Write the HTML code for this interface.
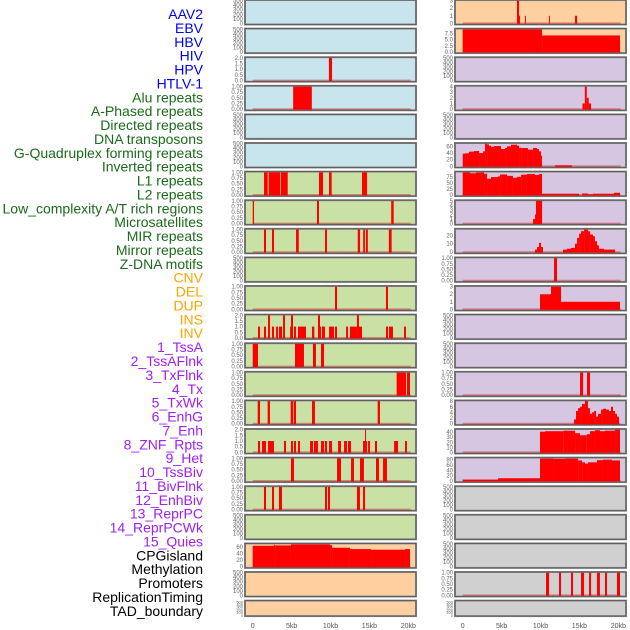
<!DOCTYPE html>
<html><head><meta charset="utf-8">
<style>
body{margin:0;background:#fff;width:630px;height:630px;overflow:hidden;font-family:"Liberation Sans",sans-serif}
svg{display:block}
</style></head><body>
<svg id="chart" width="630" height="630" viewBox="0 0 630 630"></svg>
<script>
const trackLabels=["AAV2","EBV","HBV","HIV","HPV","HTLV-1","Alu repeats","A-Phased repeats","Directed repeats","DNA transposons","G-Quadruplex forming repeats","Inverted repeats","L1 repeats","L2 repeats","Low_complexity A/T rich regions","Microsatellites","MIR repeats","Mirror repeats","Z-DNA motifs","CNV","DEL","DUP","INS","INV","1_TssA","2_TssAFlnk","3_TxFlnk","4_Tx","5_TxWk","6_EnhG","7_Enh","8_ZNF_Rpts","9_Het","10_TssBiv","11_BivFlnk","12_EnhBiv","13_ReprPC","14_ReprPCWk","15_Quies","CPGisland","Methylation","Promoters","ReplicationTiming","TAD_boundary"];
const labelGroups=[6,13,5,15,5];
const groupColors=["#0000ee","#1a6b1a","#ffa500","#a020f0","#000000"];
const xTickValues=[0,5,10,15,20];
const xTickLabels=["0","5kb","10kb","15kb","20kb"];
const emptyTicks=[0,100,200,300,400,500];
const ticks01=[0,0.25,0.5,0.75,1];
const ticks02=[0,0.5,1,1.5,2];
const genomeLength=20.3;
// left column bars [start kb, end kb, value]
const leftBars=[
 [],[],
 [[9.8,10.2,2]],
 [[5.2,7.6,1]],
 [],[],
 [[1.45,1.93,1],[2.05,3.55,1],[3.64,4.5,1],[8.52,9.04,1],[9.81,10.15,1],[14.05,14.7,1]],
 [[0,0.17,1],[8.26,8.52,1],[17.8,18.12,1]],
 [[1.45,1.71,1],[2.48,2.74,1],[5.57,5.92,1],[9.3,9.55,1],[13.5,13.8,1],[14.2,14.43,1],[14.56,14.8,1],[17.5,17.86,1]],
 [],
 [[10.58,10.84,1],[17.13,17.39,1]],
 [[0.68,0.94,1],[1.45,1.71,1],[1.97,2.22,2],[2.48,2.74,1],[3.0,3.25,1],[3.38,3.77,1],[3.9,4.15,2],[4.8,4.92,1],[4.92,5.18,2],[5.31,5.57,1],[5.82,6.85,1],[7.62,7.92,1],[8.39,8.65,2],[8.65,8.78,1],[8.9,9.29,1],[9.81,10.45,1],[10.58,10.84,1],[12.0,12.25,1],[12.5,13.4,1],[13.4,13.66,2],[13.66,14.05,1],[17.13,17.39,1],[17.52,18.03,1],[19.45,19.7,1]],
 [[0,0.68,1],[5.44,6.59,1],[7.75,8.13,1],[8.78,9.17,1]],
 [[18.5,19.7,1],[19.83,20.22,1]],
 [[0.64,0.94,1],[1.92,2.22,1],[4.88,5.18,1],[5.27,5.57,1],[7.62,8.0,1],[16.06,16.36,1]],
 [[0.68,0.94,1],[1.2,1.71,1],[1.97,2.74,1],[4.02,4.28,1],[4.92,5.18,1],[5.31,5.57,1],[5.82,6.08,1],[7.37,7.75,1],[7.88,8.39,1],[8.78,9.17,1],[9.29,9.55,1],[9.81,10.2,1],[10.97,11.35,1],[11.74,12.12,1],[12.25,12.64,1],[14.18,14.44,1],[14.44,14.57,2],[14.57,14.7,1],[14.83,15.08,1],[15.72,15.98,1],[18.17,18.68,1],[19.58,19.83,1]],
 [[4.92,5.31,1],[10.84,11.35,1],[12.64,13.02,1],[13.79,14.3,1],[15.85,16.23,1],[16.75,17.26,1]],
 [[1.45,1.71,1],[2.48,2.74,1],[3.38,3.77,1],[9.29,9.55,1],[9.68,9.94,1],[13.4,13.79,1],[14.18,14.44,1]],
 [],
 [[0,2.74,63],[2.74,2.87,66],[2.87,4.92,64],[4.92,9.94,67],[9.94,10.2,65],[10.2,12.5,57],[12.5,15.21,53],[15.21,19.58,51],[19.58,20.22,53]],
 [],[]
];
const leftMax=[500,500,2,1,500,500,1,1,1,500,1,2,1,1,1,2,1,1,500,68,500,500];
const leftTicks=[emptyTicks,emptyTicks,ticks02,ticks01,emptyTicks,emptyTicks,ticks01,ticks01,ticks01,emptyTicks,ticks01,ticks02,ticks01,ticks01,ticks01,ticks02,ticks01,ticks01,emptyTicks,[0,20,40,60],emptyTicks,emptyTicks];
const rightBars=[
 [[6.98,7.24,3],[7.24,7.37,1],[8.01,8.13,1],[11.1,11.22,1],[14.44,14.7,1]],
 [[0,10.2,9.2],[10.2,20.22,6.7]],
 [],
 [[15.4,15.7,1],[15.7,15.95,4],[15.95,16.2,2],[16.2,16.5,1]],
 [],
 [[0,0.3,38],[0.3,0.81,39],[0.81,1.45,44],[1.45,2.1,46],[2.1,2.61,40],[2.61,2.87,45],[2.87,3.13,68],[3.13,3.38,66],[3.38,3.64,62],[3.64,4.02,59],[4.02,4.92,61],[4.92,5.44,52],[5.44,5.69,55],[5.69,6.21,60],[6.21,6.98,65],[6.98,7.24,62],[7.24,7.5,56],[7.5,8.39,55],[8.39,9.04,50],[9.04,9.55,55],[9.55,9.81,52],[9.81,10.07,45],[10.07,10.2,32],[11.87,14.05,3]],
 [[0,0.94,95],[0.94,1.71,91],[1.71,2.74,94],[2.74,3.13,89],[3.13,3.64,68],[3.64,4.54,75],[4.54,4.8,78],[4.8,5.69,86],[5.69,6.46,80],[6.46,6.98,72],[6.98,7.5,76],[7.5,8.26,85],[8.26,9.29,88],[9.29,9.81,84],[9.81,10.2,88],[10.2,14.96,5],[15.34,16.11,6],[16.11,16.75,3],[16.75,19.45,5],[19.45,20.22,9]],
 [[9.04,9.29,1],[9.29,9.42,2],[9.42,10.2,5]],
 [[9.29,9.55,3],[9.55,9.81,6],[9.81,10.07,11],[10.07,10.32,6],[12.89,13.4,3],[13.4,13.92,4],[13.92,14.44,5],[14.44,14.7,10],[14.7,14.96,17],[14.96,15.21,22],[15.21,15.6,25],[15.6,16.11,27],[16.11,16.37,25],[16.37,16.75,21],[16.75,17.0,19],[17.0,17.26,13],[17.26,17.52,8],[17.52,18.17,4],[18.17,19.58,3]],
 [[11.74,12.12,1]],
 [[9.94,11.35,2],[11.35,12.64,3],[12.64,20.22,1]],
 [],[],
 [[15.08,15.47,1],[15.98,16.37,1]],
 [[14.3,14.56,1.5],[14.56,14.82,4.5],[14.82,15.08,5.5],[15.08,15.33,6],[15.33,15.72,7],[15.72,16.1,8],[16.1,16.36,5.5],[16.36,16.62,3.5],[16.62,16.88,4],[16.88,17.14,4.5],[17.14,17.39,2.5],[17.39,17.78,3.5],[17.78,18.03,5],[18.03,18.42,5.3],[18.42,18.8,5],[18.8,19.06,4.5],[19.06,19.32,6],[19.32,19.58,4.5],[19.58,19.83,3.5],[19.83,20.09,2.5]],
 [[9.94,10.58,41],[10.58,12.93,42],[12.93,14.44,43],[14.44,15.08,38],[15.08,15.94,34],[15.94,16.36,36],[16.36,17.0,42],[17.0,17.65,44],[17.65,18.29,42],[18.29,19.58,43],[19.58,20.22,45]],
 [[0,4.54,5],[4.54,9.94,10],[9.94,11.61,84],[11.61,13.15,83],[13.15,14.83,84],[14.83,15.34,77],[15.34,15.72,70],[15.72,16.11,65],[16.11,17.26,70],[17.26,18.03,78],[18.03,19.19,80],[19.19,20.22,77]],
 [],[],[],
 [[10.71,11.1,1],[12.38,12.64,1],[13.92,14.18,1],[15.21,15.6,1],[16.24,16.5,1],[17.26,17.64,1],[18.29,18.55,1],[19.83,20.22,1]],
 []
];
const rightMax=[3,9.2,500,4,500,68,95,5,27,1,3,500,500,1,8,45,85,500,500,500,1,500];
const rightTicks=[[0,1,2,3],[0,2.5,5,7.5],emptyTicks,[0,1,2,3,4],emptyTicks,[0,20,40,60],[0,25,50,75],[0,1,2,3,4,5],[0,10,20],ticks01,[0,1,2,3],emptyTicks,emptyTicks,ticks01,[0,2,4,6,8],[0,10,20,30,40],[0,20,40,60,80],emptyTicks,emptyTicks,emptyTicks,ticks01,emptyTicks];
const leftBg=["#c8e4ec","#c8e4ec","#c8e4ec","#c8e4ec","#c8e4ec","#c8e4ec","#c9e1a4","#c9e1a4","#c9e1a4","#c9e1a4","#c9e1a4","#c9e1a4","#c9e1a4","#c9e1a4","#c9e1a4","#c9e1a4","#c9e1a4","#c9e1a4","#c9e1a4","#ffd09f","#ffd09f","#ffd09f"];
const rightBg=["#ffd09f","#ffd09f","#d6c6e2","#d6c6e2","#d6c6e2","#d6c6e2","#d6c6e2","#d6c6e2","#d6c6e2","#d6c6e2","#d6c6e2","#d6c6e2","#d6c6e2","#d6c6e2","#d6c6e2","#d6c6e2","#d6c6e2","#d0d0d0","#d0d0d0","#d0d0d0","#d0d0d0","#d0d0d0"];

const NS="http://www.w3.org/2000/svg";
const svg=document.getElementById('chart');
function mk(tag,attrs,parent){const e=document.createElementNS(NS,tag);for(const k in attrs)e.setAttribute(k,attrs[k]);(parent||svg).appendChild(e);return e;}
const PITCH=28.6, PW=171, KB=7.78;
function xScale(colLeft,v){return colLeft+7.7+v*KB;}
function fmt(t,ticks){const mx=ticks[ticks.length-1];if(mx<=1)return t.toFixed(2);if(ticks.some(v=>v%1!==0))return t.toFixed(1);return String(t);}

// labels
let idx=0;
labelGroups.forEach((n,g)=>{for(let j=0;j<n;j++){const t=mk('text',{x:203,y:14+idx*13.88+5,'text-anchor':'end','font-size':14,fill:groupColors[g]});t.textContent=trackLabels[idx];


idx++;}});

function drawPanel(colLeft,r,bg,bars,maxV,ticks,side){
 const top=r*PITCH; const h=(r===21)?15.5:24.5;
 const g=mk('g',{});
 
 
 mk('rect',{x:colLeft,y:top,width:PW,height:h,fill:bg,stroke:'#8a8a8a','stroke-width':2},g);
 mk('rect',{x:colLeft,y:top,width:PW,height:h,fill:'none',stroke:'#555','stroke-width':0.8},g);
 const y0=top+h-1.2, y1=top+0.7;
 const ys=v=>y0-(v/maxV)*(y0-y1);
 if(bars.length){
  const bl=mk('line',{x1:xScale(colLeft,0),x2:xScale(colLeft,genomeLength),y1:y0,y2:y0,stroke:'rgba(190,40,40,0.45)','stroke-width':1.8},g);
  
  
 }
 bars.forEach(b=>{const x1=xScale(colLeft,b[0]),x2=xScale(colLeft,b[1]);const yt=ys(b[2]);
  const rc=mk('rect',{x:x1,y:yt,width:Math.max(0.8,x2-x1),height:y0-yt+0.5,fill:'#ff0000'},g);
  
  
 });
 ticks.forEach(t=>{const tx=mk('text',{x:colLeft-2,y:ys(t)+2,'text-anchor':'end','font-size':(r===21?4:6),fill:'#666'},g);tx.textContent=fmt(t,ticks);
  
  
 });
}
for(let r=0;r<22;r++){
 drawPanel(245,r,leftBg[r],leftBars[r],leftMax[r],leftTicks[r],'left');
 drawPanel(455,r,rightBg[r],rightBars[r],rightMax[r],rightTicks[r],'right');
}
[245,455].forEach(c=>{xTickValues.forEach((v,i)=>{const t=mk('text',{x:xScale(c,v),y:628,'text-anchor':'middle','font-size':7,fill:'#555'});t.textContent=xTickLabels[i];
 
 
});});
</script>
</body></html>
